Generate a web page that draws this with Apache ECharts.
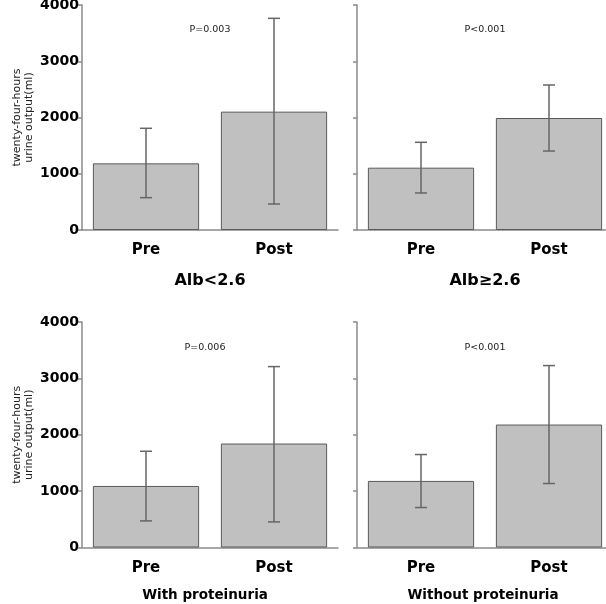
<!DOCTYPE html>
<html><head><meta charset="utf-8">
<script src="https://cdn.jsdelivr.net/npm/echarts@6/dist/echarts.min.js"></script>
<style>html,body{margin:0;padding:0;background:#fff}#c{width:606px;height:604px}</style>
</head><body><div id="c"></div>
<script>
const categories = ['Pre', 'Post'];
const panelTitles = ['Alb<2.6', 'Alb≥2.6', 'With proteinuria', 'Without proteinuria'];
const pValues = ['P=0.003', 'P<0.001', 'P=0.006', 'P<0.001'];
const yTickValues = [0, 1000, 2000, 3000, 4000];
const yAxisTitle = 'twenty-four-hours\nurine output(ml)';

const meanAlbLow = [1185, 2104];
const lowerAlbLow = [575, 462];
const upperAlbLow = [1808, 3763];

const meanAlbHigh = [1108, 1991];
const lowerAlbHigh = [658, 1404];
const upperAlbHigh = [1559, 2578];

const meanProt = [1092, 1844];
const lowerProt = [472, 454];
const upperProt = [1707, 3209];

const meanNoProt = [1181, 2181];
const lowerNoProt = [709, 1135];
const upperNoProt = [1649, 3227];

const panels = [
  { mean: meanAlbLow, lo: lowerAlbLow, hi: upperAlbLow },
  { mean: meanAlbHigh, lo: lowerAlbHigh, hi: upperAlbHigh },
  { mean: meanProt, lo: lowerProt, hi: upperProt },
  { mean: meanNoProt, lo: lowerNoProt, hi: upperNoProt }
];

const gridPos = [
  { left: 82, top: 5, width: 256, height: 225 },
  { left: 357, top: 5, width: 256, height: 225 },
  { left: 82, top: 322, width: 256, height: 225.5 },
  { left: 357, top: 322, width: 256, height: 225.5 }
];

const axisColor = '#8a8a8a';
const grids = [], xAxes = [], yAxes = [], series = [];
panels.forEach((p, i) => {
  grids.push(Object.assign({ containLabel: false, outerBoundsMode: 'none' }, gridPos[i]));
  xAxes.push({
    type: 'category', gridIndex: i, data: categories,
    axisLine: { lineStyle: { color: axisColor, width: 1.5 } },
    axisTick: { alignWithLabel: true, length: 5, lineStyle: { color: axisColor, width: 1.5 } },
    axisLabel: { fontFamily: 'DejaVu Sans', fontWeight: 'bold', fontSize: 15, color: '#000', margin: 13 }
  });
  const showLabels = (i % 2 === 0);
  yAxes.push({
    type: 'value', gridIndex: i, min: yTickValues[0], max: yTickValues[yTickValues.length - 1], interval: 1000,
    splitLine: { show: false },
    axisLine: { show: true, lineStyle: { color: axisColor, width: 1.5 } },
    axisTick: { show: true, length: 4, lineStyle: { color: axisColor, width: 1.5 } },
    axisLabel: { show: showLabels, formatter: v => String(v), fontFamily: 'DejaVu Sans', fontWeight: 'bold', fontSize: 14, color: '#000', margin: 3 },
    name: showLabels ? yAxisTitle : '',
    nameLocation: 'middle', nameRotate: 90, nameGap: 47,
    nameTextStyle: { fontFamily: 'DejaVu Sans', fontSize: 11, color: '#222', lineHeight: 12 }
  });
  series.push({
    type: 'bar', xAxisIndex: i, yAxisIndex: i, data: p.mean, barWidth: '83%',
    itemStyle: { color: '#c0c0c0', borderColor: '#5a5a5a', borderWidth: 1 },
    silent: true, animation: false
  });
  const errData = p.mean.map((m, k) => [k, p.lo[k], p.hi[k]]);
  series.push({
    type: 'custom', xAxisIndex: i, yAxisIndex: i, data: errData, animation: false, silent: true, z: 5,
    renderItem: function (params, api) {
      const x = api.value(0);
      const a = api.coord([x, api.value(1)]);
      const b = api.coord([x, api.value(2)]);
      const hw = 6;
      const st = { stroke: '#666', lineWidth: 1.5 };
      return {
        type: 'group', children: [
          { type: 'line', shape: { x1: a[0], y1: a[1], x2: b[0], y2: b[1] }, style: st },
          { type: 'line', shape: { x1: a[0] - hw, y1: a[1], x2: a[0] + hw, y2: a[1] }, style: st },
          { type: 'line', shape: { x1: b[0] - hw, y1: b[1], x2: b[0] + hw, y2: b[1] }, style: st }
        ]
      };
    }
  });
});

const pPos = [[210, 30], [485, 30], [205, 348], [485, 348]];
const titlePos = [[210, 281], [485, 281], [205, 595], [483, 595]];
const titleSize = [16, 16, 13.5, 13.5];
const graphics = [];
panels.forEach((p, i) => {
  graphics.push({ type: 'text', x: pPos[i][0], y: pPos[i][1], silent: true,
    style: { text: pValues[i], align: 'center', verticalAlign: 'middle', font: '9.5px "DejaVu Sans"', fill: '#222' } });
  graphics.push({ type: 'text', x: titlePos[i][0], y: titlePos[i][1], silent: true,
    style: { text: panelTitles[i], align: 'center', verticalAlign: 'middle', font: 'bold ' + titleSize[i] + 'px "DejaVu Sans"', fill: '#000' } });
});

const chart = echarts.init(document.getElementById('c'), null, { renderer: 'canvas' });
chart.setOption({
  animation: false,
  grid: grids, xAxis: xAxes, yAxis: yAxes, series: series,
  graphic: graphics
});
</script></body></html>
